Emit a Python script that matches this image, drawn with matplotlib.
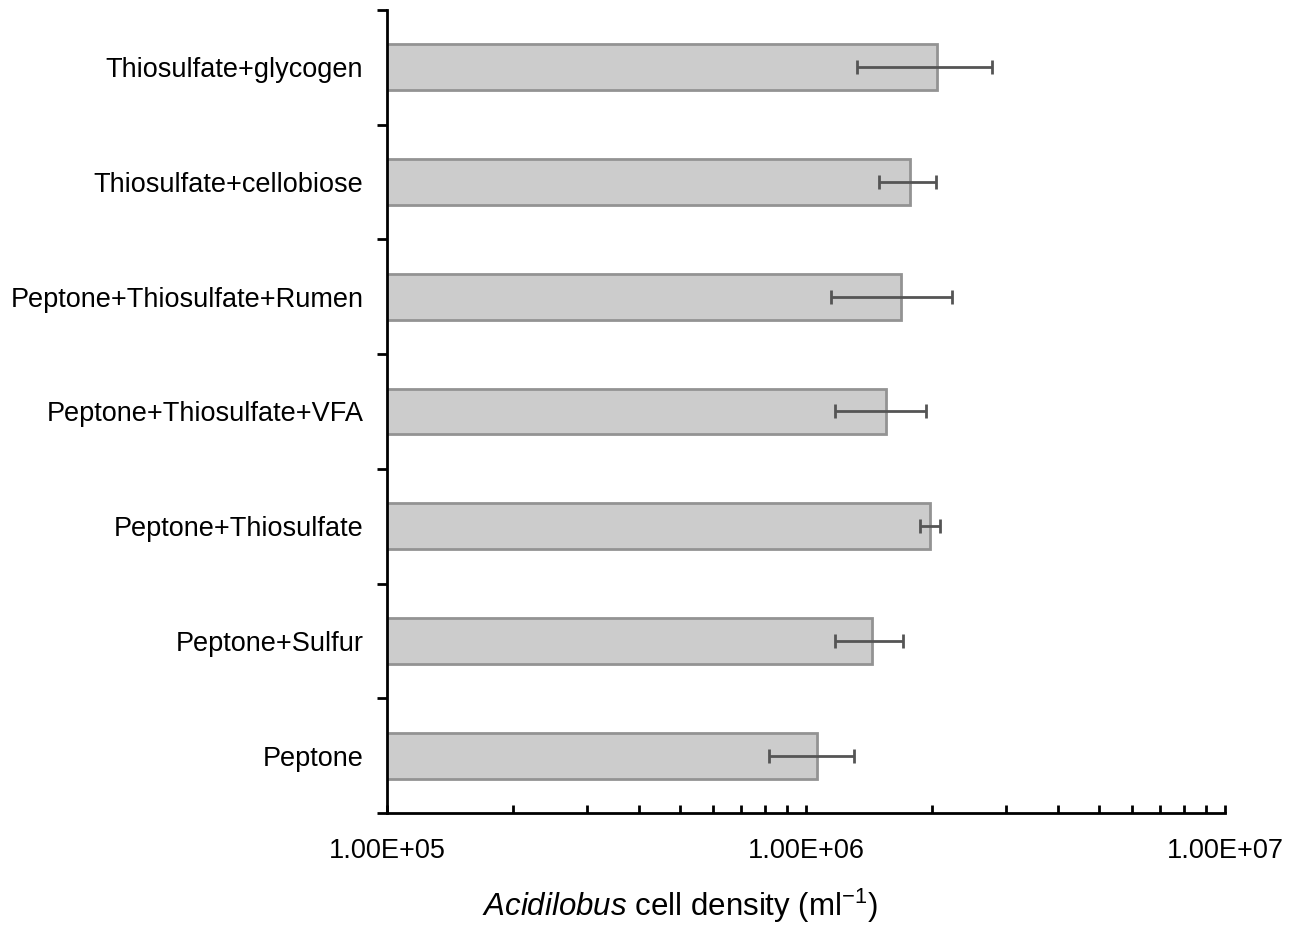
import matplotlib
matplotlib.use('Agg')
import matplotlib.pyplot as plt
from matplotlib.ticker import LogLocator, NullFormatter, FixedFormatter, FixedLocator

plt.rcParams['font.family'] = ['Liberation Sans', 'DejaVu Sans']
plt.rcParams['mathtext.fontset'] = 'custom'
plt.rcParams['mathtext.rm'] = 'Liberation Sans'
plt.rcParams['mathtext.it'] = 'Liberation Sans:italic'

# bottom to top
media = ['Peptone', 'Peptone+Sulfur', 'Peptone+Thiosulfate',
         'Peptone+Thiosulfate+VFA', 'Peptone+Thiosulfate+Rumen',
         'Thiosulfate+cellobiose', 'Thiosulfate+glycogen']
density = [1.06e6, 1.44e6, 1.98e6, 1.55e6, 1.69e6, 1.77e6, 2.05e6]
sd = [0.245e6, 0.265e6, 0.105e6, 0.38e6, 0.545e6, 0.275e6, 0.73e6]

xticks = [1e5, 1e6, 1e7]
xticklabels = ['1.00E+05', '1.00E+06', '1.00E+07']

fig = plt.figure(figsize=(12.96, 9.25), dpi=100)
ax = fig.add_axes([0.2986, 0.1211, 0.9452 - 0.2986, 0.9892 - 0.1211])

ypos = list(range(len(media)))
ax.barh(ypos, density, height=0.4, left=0, color='#cccccc',
        edgecolor='#939393', linewidth=2, zorder=2)
ax.errorbar(density, ypos, xerr=sd, fmt='none', ecolor='#555555',
            elinewidth=2, capsize=5, capthick=2, zorder=3)

ax.set_xscale('log')
ax.set_xlim(1e5, 1e7)
ax.set_ylim(-0.5, len(media) - 0.5)

ax.xaxis.set_major_locator(FixedLocator(xticks))
ax.xaxis.set_major_formatter(FixedFormatter(xticklabels))
ax.xaxis.set_minor_locator(LogLocator(base=10, subs=range(2, 10)))
ax.xaxis.set_minor_formatter(NullFormatter())
ax.tick_params(axis='x', which='both', direction='in', length=6, width=2,
               labelsize=19.5, pad=18)

# ticks sit between the categories, labels on the categories
ax.set_yticks([y + 0.5 for y in range(-1, len(media))], minor=False)
ax.set_yticklabels([])
ax.set_yticks(ypos, minor=True)
ax.set_yticklabels(media, minor=True)
ax.tick_params(axis='y', which='major', direction='out', length=7, width=2)
ax.tick_params(axis='y', which='minor', length=0, labelsize=19.5, pad=17)

for s in ['top', 'right']:
    ax.spines[s].set_visible(False)
for s in ['left', 'bottom']:
    ax.spines[s].set_linewidth(2)

ax.set_xlabel(r'$\mathit{Acidilobus}$ cell density (ml$^{-1}$)', fontsize=22.5)
ax.xaxis.set_label_coords(0.35, -0.092)

fig.savefig('out.png', dpi=100)
